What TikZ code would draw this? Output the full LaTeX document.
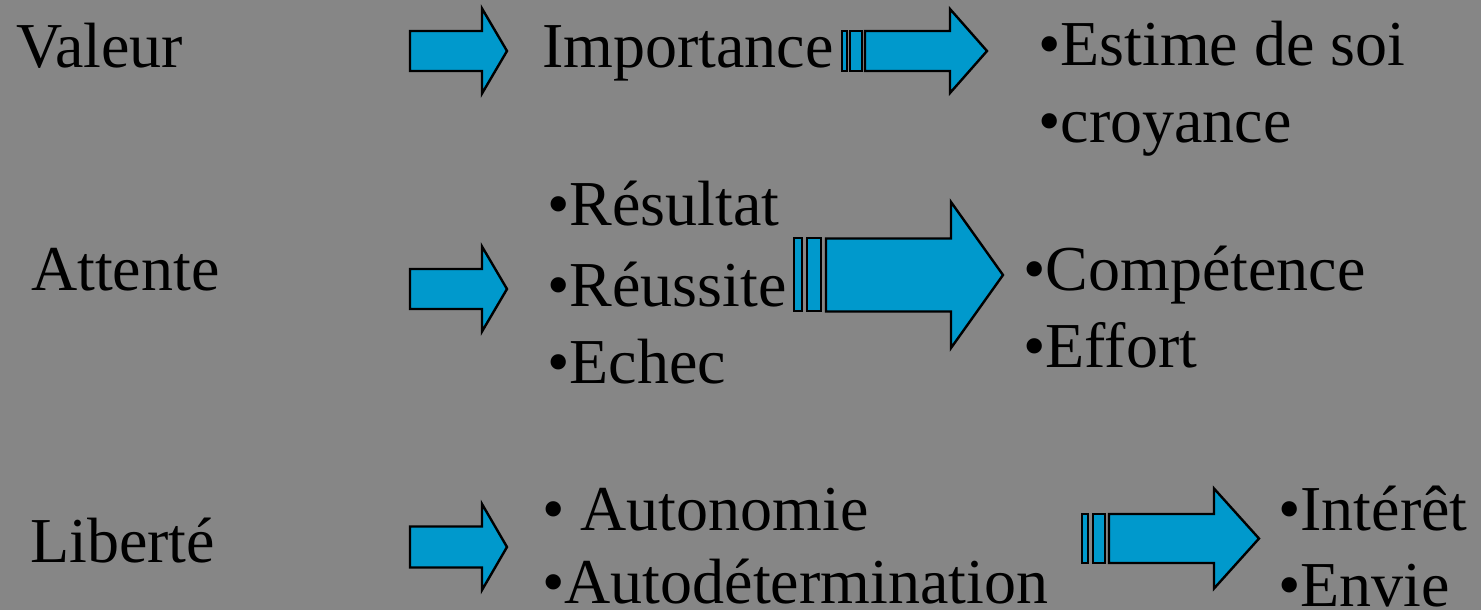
\documentclass[tikz,border=0pt]{standalone}
\usepackage{fontspec}
\setmainfont{Liberation Serif}
\definecolor{bg}{RGB}{134,134,134}
\definecolor{arrowblue}{RGB}{0,153,204}
% block arrow: left x, head base x, tip x, centre y, half shaft height, half head height
\newcommand\blockarr[6]{%
  \filldraw[arrowbody] (#1,#4-#5) -- (#2,#4-#5) -- (#2,#4-#6) -- (#3,#4)
    -- (#2,#4+#6) -- (#2,#4+#5) -- (#1,#4+#5) -- cycle;}
\tikzset{
  txt/.style={anchor=base west, inner sep=0pt, text=black,
              font=\fontsize{64}{76}\selectfont},
  arrowbody/.style={fill=arrowblue, draw=black, line width=2.4pt, line join=miter},
  stripe/.style={fill=arrowblue, draw=black, line width=2pt}
}
\begin{document}
\begin{tikzpicture}[x=1pt,y=-1pt]
\useasboundingbox (0,0) rectangle (1481,610);
\fill[bg] (0,0) rectangle (1481,610);

% row 1
\node[txt] (valeur) at (16,67) {Valeur};
\node[txt] (importance) at (542,67) {Importance};
\node[txt] (estime) at (1038,66) {•Estime de soi};
\node[txt] (croyance) at (1038,142) {•croyance};
\blockarr{410}{482}{507}{51}{20}{42.5}
\filldraw[stripe] (842,31) rectangle (847,71);
\filldraw[stripe] (850,31) rectangle (862,71);
\blockarr{865}{950}{987}{51}{20}{42}

% row 2
\node[txt] (attente) at (31,290) {Attente};
\node[txt] (resultat) at (547,225) {•Résultat};
\node[txt] (reussite) at (547,306) {•Réussite};
\node[txt] (echec) at (547,383) {•Echec};
\node[txt] (competence) at (1023,290) {•Compétence};
\node[txt] (effort) at (1023,367) {•Effort};
\blockarr{410}{482}{507}{289}{20}{42.5}
\filldraw[stripe] (794,238) rectangle (802,311);
\filldraw[stripe] (807,238) rectangle (821,311);
\blockarr{826}{951}{1003}{275}{36.5}{73}

% row 3
\node[txt] (liberte) at (30,562) {Liberté};
\node[txt] (autonomie) at (542,530) {• Autonomie};
\node[txt] (autodet) at (542,603) {•Autodétermination};
\node[txt] (interet) at (1278,530) {•Intérêt};
\node[txt] (envie) at (1278,606) {•Envie};
\blockarr{410}{482}{507}{547}{20.5}{43}
\filldraw[stripe] (1082,514) rectangle (1088,563);
\filldraw[stripe] (1093,514) rectangle (1105,563);
\blockarr{1109}{1214}{1259}{538.5}{24.5}{50}
\end{tikzpicture}
\end{document}
